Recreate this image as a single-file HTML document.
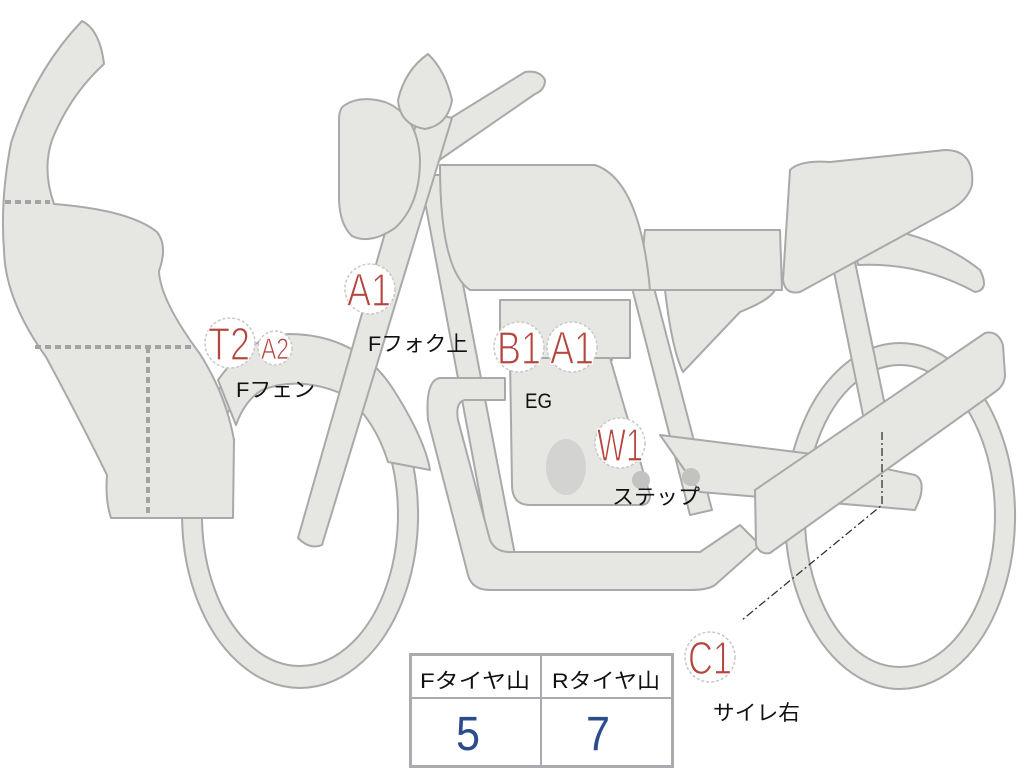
<!DOCTYPE html>
<html><head><meta charset="utf-8"><style>
html,body{margin:0;padding:0;background:#fff;}
svg{display:block}
.s{fill:#e6e6e3;stroke:#a9a9a9;stroke-width:2;stroke-linejoin:round}
.b{fill:#fff;stroke:#c8c8c8;stroke-width:1.5;stroke-dasharray:3 2}
.r{fill:#b5453f;font-family:"Liberation Sans",sans-serif;text-anchor:middle;stroke:#fff;stroke-width:1.3}
.k{fill:#111;font-family:"Liberation Sans","Noto Sans CJK JP",sans-serif;font-size:21px}
</style></head><body>
<svg width="1024" height="768" viewBox="0 0 1024 768">
<path class="s" fill-rule="evenodd" d="M300,342 a118,173 0 1,0 0.1,0 Z M300,364 a98,151 0 1,1 -0.1,0 Z"/>
<path class="s" fill-rule="evenodd" d="M900,343 a115,173 0 1,0 0.1,0 Z M900,365 a95,151 0 1,1 -0.1,0 Z"/>
<path class="s" d="M832,262 L855,262 L888,420 L865,425 Z"/>
<path class="s" d="M850,225 Q930,230 980,270 Q990,290 975,292 Q920,262 858,265 Z"/>
<path class="s" d="M665,290 L775,290 Q770,300 740,312 L683,372 Q672,350 665,290 Z"/>
<path class="s" d="M420,175 L442,175 L515,555 L492,560 Z"/>
<path class="s" d="M630,280 L652,280 L712,510 L690,515 Z"/>
<path class="s" d="M660,435 L820,455 L915,475 Q925,480 920,498 L915,510 L700,492 Z"/>
<path class="s" d="M440,378 L505,378 L505,400 L465,400 Q455,402 458,420 L490,540 Q495,552 510,552 L700,552 L740,525 L760,545 L715,585 Q708,590 690,590 L490,590 Q472,590 468,575 L428,420 Q425,380 440,378 Z"/>
<path class="s" d="M500,300 L630,300 L630,358 L612,358 L612,360 L500,360 Z"/>
<path class="s" d="M510,358 L610,358 L650,495 Q650,505 640,505 L530,505 Q512,505 512,485 Z"/>
<ellipse cx="566" cy="467" rx="20" ry="28" fill="#d3d3d1"/>
<circle cx="641" cy="480" r="9" fill="#c2c2c0"/>
<circle cx="691" cy="477" r="9" fill="#c2c2c0"/>
<path class="s" d="M645,230 L780,230 L782,290 L650,290 Q640,270 645,230 Z"/>
<path class="s" d="M790,170 Q800,160 830,162 L945,150 Q975,150 972,185 Q968,200 950,210 L800,292 Q785,295 783,280 Z"/>
<path class="s" d="M440,165 L595,165 Q640,180 650,290 L470,290 Q440,270 440,165 Z"/>
<path class="s" d="M755,490 L985,333 Q998,330 1003,345 L1005,375 Q1005,385 995,392 L770,553 Q760,555 756,545 Z"/>
<path class="s" d="M218,380 Q250,335 290,334 Q360,335 395,392 Q425,440 430,470 L388,462 Q375,420 345,395 Q300,375 262,390 Q245,400 236,425 Z"/>
<path class="s" d="M415,140 L525,72 Q540,70 545,80 Q545,90 535,94 L425,170 Z"/>
<path class="s" d="M420,110 L452,118 L322,545 Q310,550 298,538 Z"/>
<path class="s" d="M345,105 Q360,95 385,102 Q418,115 420,160 Q420,205 395,228 Q370,245 352,236 Q340,225 339,200 L339,120 Q339,108 345,105 Z"/>
<path class="s" d="M398,100 Q405,70 428,54 Q445,70 452,100 Q448,125 425,129 Q400,125 398,100 Z"/>
<path class="s" d="M82,21 Q100,30 104,64 Q70,95 52,140 Q42,170 54,204 Q130,210 157,232 Q168,246 159,271 Q160,300 200,354 Q226,395 234,440 L233,518 L111,518 Q105,500 107,475 Q80,420 46,357 Q5,300 4,250 Q0,200 11,143 Q35,70 82,21 Z"/>
<path d="M5,202 H50 M35,347 H195 M148,347 V515" stroke="#a3a3a3" stroke-width="4" stroke-dasharray="6 4" fill="none"/>
<path d="M882,432 V505 L742,620" stroke="#333" stroke-width="1.3" stroke-dasharray="8 3 2 3" fill="none"/>
<circle class="b" cx="370" cy="289" r="25"/><text class="r" x="369" y="306" font-size="46" textLength="44" lengthAdjust="spacingAndGlyphs">A1</text>
<circle class="b" cx="230" cy="343" r="25"/><text class="r" x="229" y="360" font-size="46" textLength="42" lengthAdjust="spacingAndGlyphs">T2</text>
<circle class="b" cx="275" cy="348" r="17"/><text class="r" x="275" y="359" font-size="30" textLength="28" lengthAdjust="spacingAndGlyphs" style="stroke-width:0.8">A2</text>
<circle class="b" cx="519" cy="347" r="25"/><text class="r" x="519" y="364" font-size="46" textLength="44" lengthAdjust="spacingAndGlyphs">B1</text>
<circle class="b" cx="572" cy="347" r="25"/><text class="r" x="572" y="364" font-size="46" textLength="44" lengthAdjust="spacingAndGlyphs">A1</text>
<circle class="b" cx="620" cy="443" r="25"/><text class="r" x="620" y="461" font-size="46" textLength="46" lengthAdjust="spacingAndGlyphs">W1</text>
<circle class="b" cx="710" cy="657" r="25"/><text class="r" x="710" y="674" font-size="46" textLength="44" lengthAdjust="spacingAndGlyphs">C1</text>
<text class="k" x="368" y="351" textLength="100" lengthAdjust="spacingAndGlyphs">Fフォク上</text>
<text class="k" x="236" y="397" textLength="79" lengthAdjust="spacingAndGlyphs">Fフェン</text>
<text class="k" x="525" y="408" textLength="27" lengthAdjust="spacingAndGlyphs">EG</text>
<text class="k" x="612" y="504" textLength="88" lengthAdjust="spacingAndGlyphs">ステップ</text>
<text class="k" x="713" y="720" textLength="87" lengthAdjust="spacingAndGlyphs">サイレ右</text>
<rect x="410.5" y="654.5" width="262" height="112" fill="#fff" stroke="#a9abb0" stroke-width="3"/>
<line x1="410" y1="698" x2="672" y2="698" stroke="#a9abb0" stroke-width="2"/>
<line x1="541" y1="654" x2="541" y2="766" stroke="#a9abb0" stroke-width="2"/>
<text class="k" x="420" y="688" font-size="25" textLength="110" lengthAdjust="spacingAndGlyphs">Fタイヤ山</text>
<text class="k" x="552" y="688" font-size="25" textLength="108" lengthAdjust="spacingAndGlyphs">Rタイヤ山</text>
<text x="468" y="750" text-anchor="middle" font-size="48" fill="#2d4c8c" font-family="Liberation Sans,sans-serif" textLength="24" lengthAdjust="spacingAndGlyphs">5</text>
<text x="598" y="750" text-anchor="middle" font-size="48" fill="#2d4c8c" font-family="Liberation Sans,sans-serif" textLength="24" lengthAdjust="spacingAndGlyphs">7</text>
</svg>
</body></html>
